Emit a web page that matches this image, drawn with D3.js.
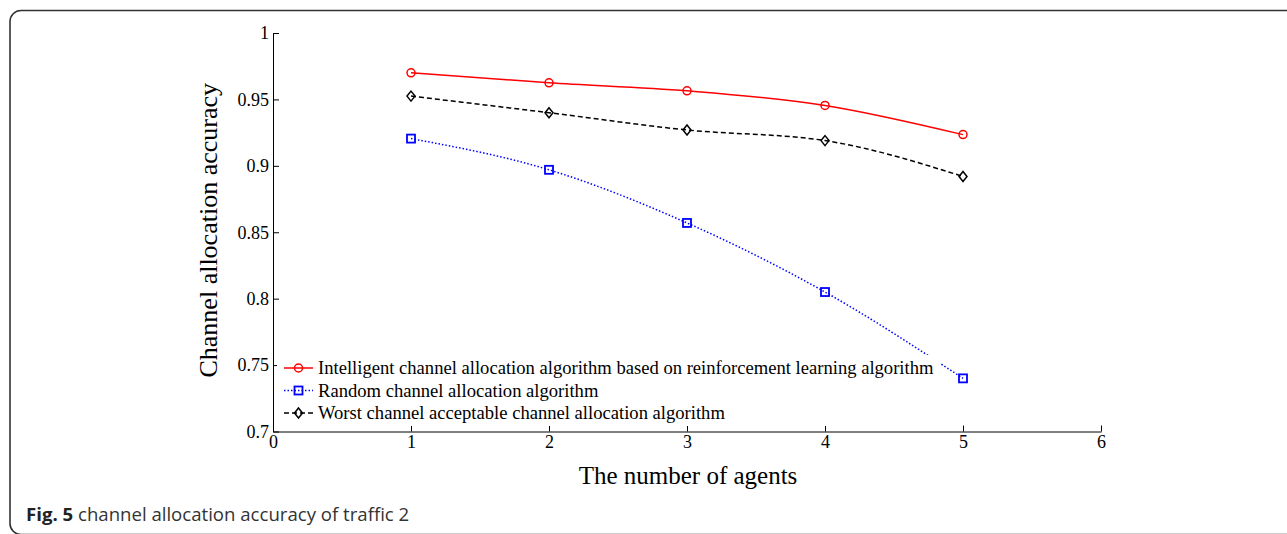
<!DOCTYPE html>
<html>
<head>
<meta charset="utf-8">
<script src="https://cdn.jsdelivr.net/npm/d3@7"></script>
<style>
  body { margin: 0; background: #fff; }
  svg { display: block; }
</style>
</head>
<body>
<div id="app"></div>
<script>
// channel allocation accuracy vs number of agents (traffic 2)

const agents = [1, 2, 3, 4, 5];
const intelligent = [0.970, 0.9625, 0.9565, 0.9455, 0.9235];
const random = [0.9205, 0.897, 0.857, 0.805, 0.740];
const worst = [0.9525, 0.940, 0.927, 0.919, 0.892];

const seriesNames = [
  "Intelligent channel allocation algorithm based on reinforcement learning algorithm",
  "Random channel allocation algorithm",
  "Worst channel acceptable channel allocation algorithm"
];

const xTicks = [0, 1, 2, 3, 4, 5, 6];
const yTicks = [0.7, 0.75, 0.8, 0.85, 0.9, 0.95, 1];

const W = 1287, H = 534;
const serif = "'Liberation Serif', 'Times New Roman', serif";

const svg = d3.select("#app").append("svg")
  .attr("width", W)
  .attr("height", H);

// figure frame (rounded box, runs off right and bottom edge)
svg.append("rect")
  .attr("x", 10).attr("y", 10.5)
  .attr("width", 1320).attr("height", 524)
  .attr("rx", 11)
  .attr("fill", "none")
  .attr("stroke", "#333")
  .attr("stroke-width", 1.6);

const plot = { left: 273, right: 1101, top: 33, bottom: 431.5 };

const xScale = d3.scaleLinear().domain([0, 6]).range([plot.left, plot.right]);
const yScale = d3.scaleLinear().domain([0.7, 1]).range([plot.bottom, plot.top]);

// axes, ticks pointing inward
const xAxis = svg.append("g")
  .attr("transform", `translate(0,${plot.bottom})`)
  .call(d3.axisBottom(xScale).tickValues(xTicks).tickSize(-6).tickSizeOuter(0).tickPadding(4).tickFormat(d3.format("d")));

const yAxis = svg.append("g")
  .attr("transform", `translate(${plot.left},0)`)
  .call(d3.axisLeft(yScale).tickValues(yTicks).tickSize(-6).tickSizeOuter(0).tickPadding(4).tickFormat(d3.format("~g")));

[xAxis, yAxis].forEach((g) => {
  g.attr("font-family", serif).attr("font-size", 18);
  g.selectAll("text").attr("fill", "#000");
  g.selectAll("line").attr("stroke", "#000");
  g.select(".domain").attr("stroke", "#000");
});

// axis titles
svg.append("text")
  .attr("x", (plot.left + plot.right) / 2 + 1)
  .attr("y", 484)
  .attr("text-anchor", "middle")
  .attr("font-family", serif)
  .attr("font-size", 25)
  .text("The number of agents");

svg.append("text")
  .attr("transform", `translate(217,${(plot.top + plot.bottom) / 2 - 2}) rotate(-90)`)
  .attr("text-anchor", "middle")
  .attr("font-family", serif)
  .attr("font-size", 26)
  .text("Channel allocation accuracy");

// series
const series = [
  { values: intelligent, color: "#ff0000", dash: null, marker: "circle" },
  { values: random, color: "#0000ff", dash: "1.5,2", marker: "square" },
  { values: worst, color: "#000000", dash: "5,3", marker: "diamond" }
];

const line = d3.line()
  .x((d) => xScale(d[0]))
  .y((d) => yScale(d[1]))
  .curve(d3.curveMonotoneX);

function drawMarker(g, type, x, y, color) {
  if (type === "circle") {
    g.append("circle").attr("cx", x).attr("cy", y).attr("r", 4)
      .attr("fill", "none").attr("stroke", color).attr("stroke-width", 1.5);
  } else if (type === "square") {
    g.append("rect").attr("x", x - 4).attr("y", y - 4).attr("width", 8).attr("height", 8)
      .attr("fill", "none").attr("stroke", color).attr("stroke-width", 1.8);
  } else {
    g.append("path").attr("d", `M${x},${y - 5}L${x + 4},${y}L${x},${y + 5}L${x - 4},${y}Z`)
      .attr("fill", "none").attr("stroke", color).attr("stroke-width", 1.5);
  }
}

const dataGroup = svg.append("g");
series.forEach((s) => {
  const pts = agents.map((a, i) => [a, s.values[i]]);
  dataGroup.append("path")
    .datum(pts)
    .attr("d", line)
    .attr("fill", "none")
    .attr("stroke", s.color)
    .attr("stroke-width", 1.5)
    .attr("stroke-dasharray", s.dash);
  pts.forEach((p) => drawMarker(dataGroup, s.marker, xScale(p[0]), yScale(p[1]), s.color));
});

// legend (white box, no border)
const legend = svg.append("g");
legend.append("rect")
  .attr("x", 277).attr("y", 355)
  .attr("width", 664).attr("height", 71)
  .attr("fill", "#fff");

series.forEach((s, i) => {
  const y = 368 + i * 22.5;
  legend.append("line")
    .attr("x1", 284).attr("x2", 313)
    .attr("y1", y).attr("y2", y)
    .attr("stroke", s.color)
    .attr("stroke-width", 1.5)
    .attr("stroke-dasharray", s.dash);
  drawMarker(legend, s.marker, 298.5, y, s.color);
  legend.append("text")
    .attr("x", 318).attr("y", y + 6)
    .attr("font-family", serif)
    .attr("font-size", 18.6)
    .text(seriesNames[i]);
});

// caption
const cap = svg.append("text")
  .attr("x", 26).attr("y", 521)
  .attr("font-family", "'Open Sans', sans-serif")
  .attr("font-size", 18.6)
  .attr("fill", "#333");
cap.append("tspan").attr("font-weight", "bold").attr("fill", "#222").text("Fig. 5");
cap.append("tspan").text(" channel allocation accuracy of traffic 2");
</script>
</body>
</html>
